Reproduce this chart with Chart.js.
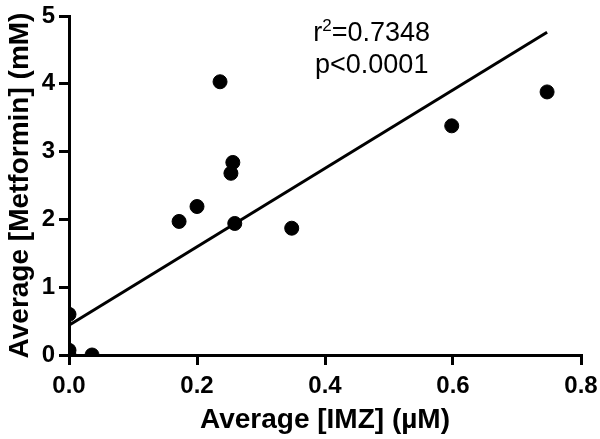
<!DOCTYPE html>
<html>
<head>
<meta charset="utf-8">
<script src="https://cdn.jsdelivr.net/npm/chart.js@4/dist/chart.umd.min.js"></script>
<style>
  html, body { margin: 0; padding: 0; background: #fff; }
  #wrap { width: 600px; height: 439px; }
</style>
</head>
<body>
<div id="wrap"><canvas id="chart"></canvas></div>
<script>
// values
const imzValues = [0, 0, 0, 0.036, 0.172, 0.200, 0.236, 0.253, 0.256, 0.259, 0.348, 0.598, 0.747];
const metforminValues = [0.60, 0.07, 0.0, 0.0, 1.97, 2.19, 4.03, 2.68, 2.84, 1.94, 1.87, 3.38, 3.88];
const fitX = [0, 0.747];
const fitY = [0.44, 4.76];
const xTicks = [0, 0.2, 0.4, 0.6, 0.8];
const yTicks = [0, 1, 2, 3, 4, 5];
const statLines = ['=0.7348', 'p<0.0001'];

const points = imzValues.map((x, i) => ({ x: x, y: metforminValues[i] }));
const fitLine = fitX.map((x, i) => ({ x: x, y: fitY[i] }));

const fontFamily = 'Arial, "Liberation Sans", sans-serif';

// draws the r² / p text block
const statsText = {
    id: 'statsText',
    afterDraw(chart) {
        const ctx = chart.ctx;
        const xs = chart.scales.x;
        const ys = chart.scales.y;
        const cx = xs.getPixelForValue(0.473);
        ctx.save();
        ctx.fillStyle = '#000';
        ctx.textBaseline = 'alphabetic';
        // first line, r with superscript 2
        const y1 = ys.getPixelForValue(4.63);
        ctx.font = '27px ' + fontFamily;
        const wa = ctx.measureText('r').width;
        const wc = ctx.measureText(statLines[0]).width;
        ctx.font = '17px ' + fontFamily;
        const wb = ctx.measureText('2').width;
        const left = cx - (wa + wb + wc) / 2;
        ctx.font = '27px ' + fontFamily;
        ctx.fillText('r', left, y1);
        ctx.font = '17px ' + fontFamily;
        ctx.fillText('2', left + wa, y1 - 10);
        ctx.font = '27px ' + fontFamily;
        ctx.fillText(statLines[0], left + wa + wb, y1);
        // second line
        const y2 = ys.getPixelForValue(4.16);
        ctx.textAlign = 'center';
        ctx.fillText(statLines[1], cx, y2);
        ctx.restore();
    }
};

const ctx = document.getElementById('chart').getContext('2d');
const chart = new Chart(ctx, {
    type: 'scatter',
    data: {
        datasets: [
            {
                data: points,
                backgroundColor: '#000',
                borderColor: '#000',
                pointRadius: 7,
                pointHoverRadius: 7
            },
            {
                data: fitLine,
                showLine: true,
                borderColor: '#000',
                borderWidth: 3,
                pointRadius: 0,
                fill: false
            }
        ]
    },
    options: {
        responsive: true,
        maintainAspectRatio: false,
        animation: false,
        layout: { padding: { top: 15, right: 19, bottom: 0, left: 3 } },
        plugins: {
            legend: { display: false },
            tooltip: { enabled: false }
        },
        scales: {
            x: {
                type: 'linear',
                min: 0,
                max: 0.8,
                afterBuildTicks: axis => { axis.ticks = xTicks.map(v => ({ value: v })); },
                afterFit: axis => {
                    axis.height = 84;
                    axis.paddingLeft = 0;
                    axis.paddingRight = 0;
                },
                border: { color: '#000', width: 3 },
                grid: { drawOnChartArea: false, color: '#000', lineWidth: 3, tickLength: 10 },
                ticks: {
                    color: '#000',
                    padding: 9,
                    font: { family: fontFamily, size: 24, weight: 'bold', lineHeight: 1 },
                    callback: v => v.toFixed(1)
                },
                title: {
                    display: true,
                    text: 'Average [IMZ] (µM)',
                    color: '#000',
                    padding: { top: 0, bottom: 5 },
                    font: { family: fontFamily, size: 28, weight: 'bold', lineHeight: 1 }
                }
            },
            y: {
                type: 'linear',
                min: 0,
                max: 5,
                afterBuildTicks: axis => { axis.ticks = yTicks.map(v => ({ value: v })); },
                afterFit: axis => { axis.width = 66; },
                border: { color: '#000', width: 3 },
                grid: { drawOnChartArea: false, color: '#000', lineWidth: 3, tickLength: 10 },
                ticks: {
                    color: '#000',
                    padding: 4,
                    font: { family: fontFamily, size: 24, weight: 'bold', lineHeight: 1 }
                },
                title: {
                    display: true,
                    text: 'Average [Metformin] (mM)',
                    color: '#000',
                    padding: { top: 3, bottom: 0 },
                    font: { family: fontFamily, size: 28, weight: 'bold', lineHeight: 1 }
                }
            }
        }
    },
    plugins: [statsText]
});
</script>
</body>
</html>
